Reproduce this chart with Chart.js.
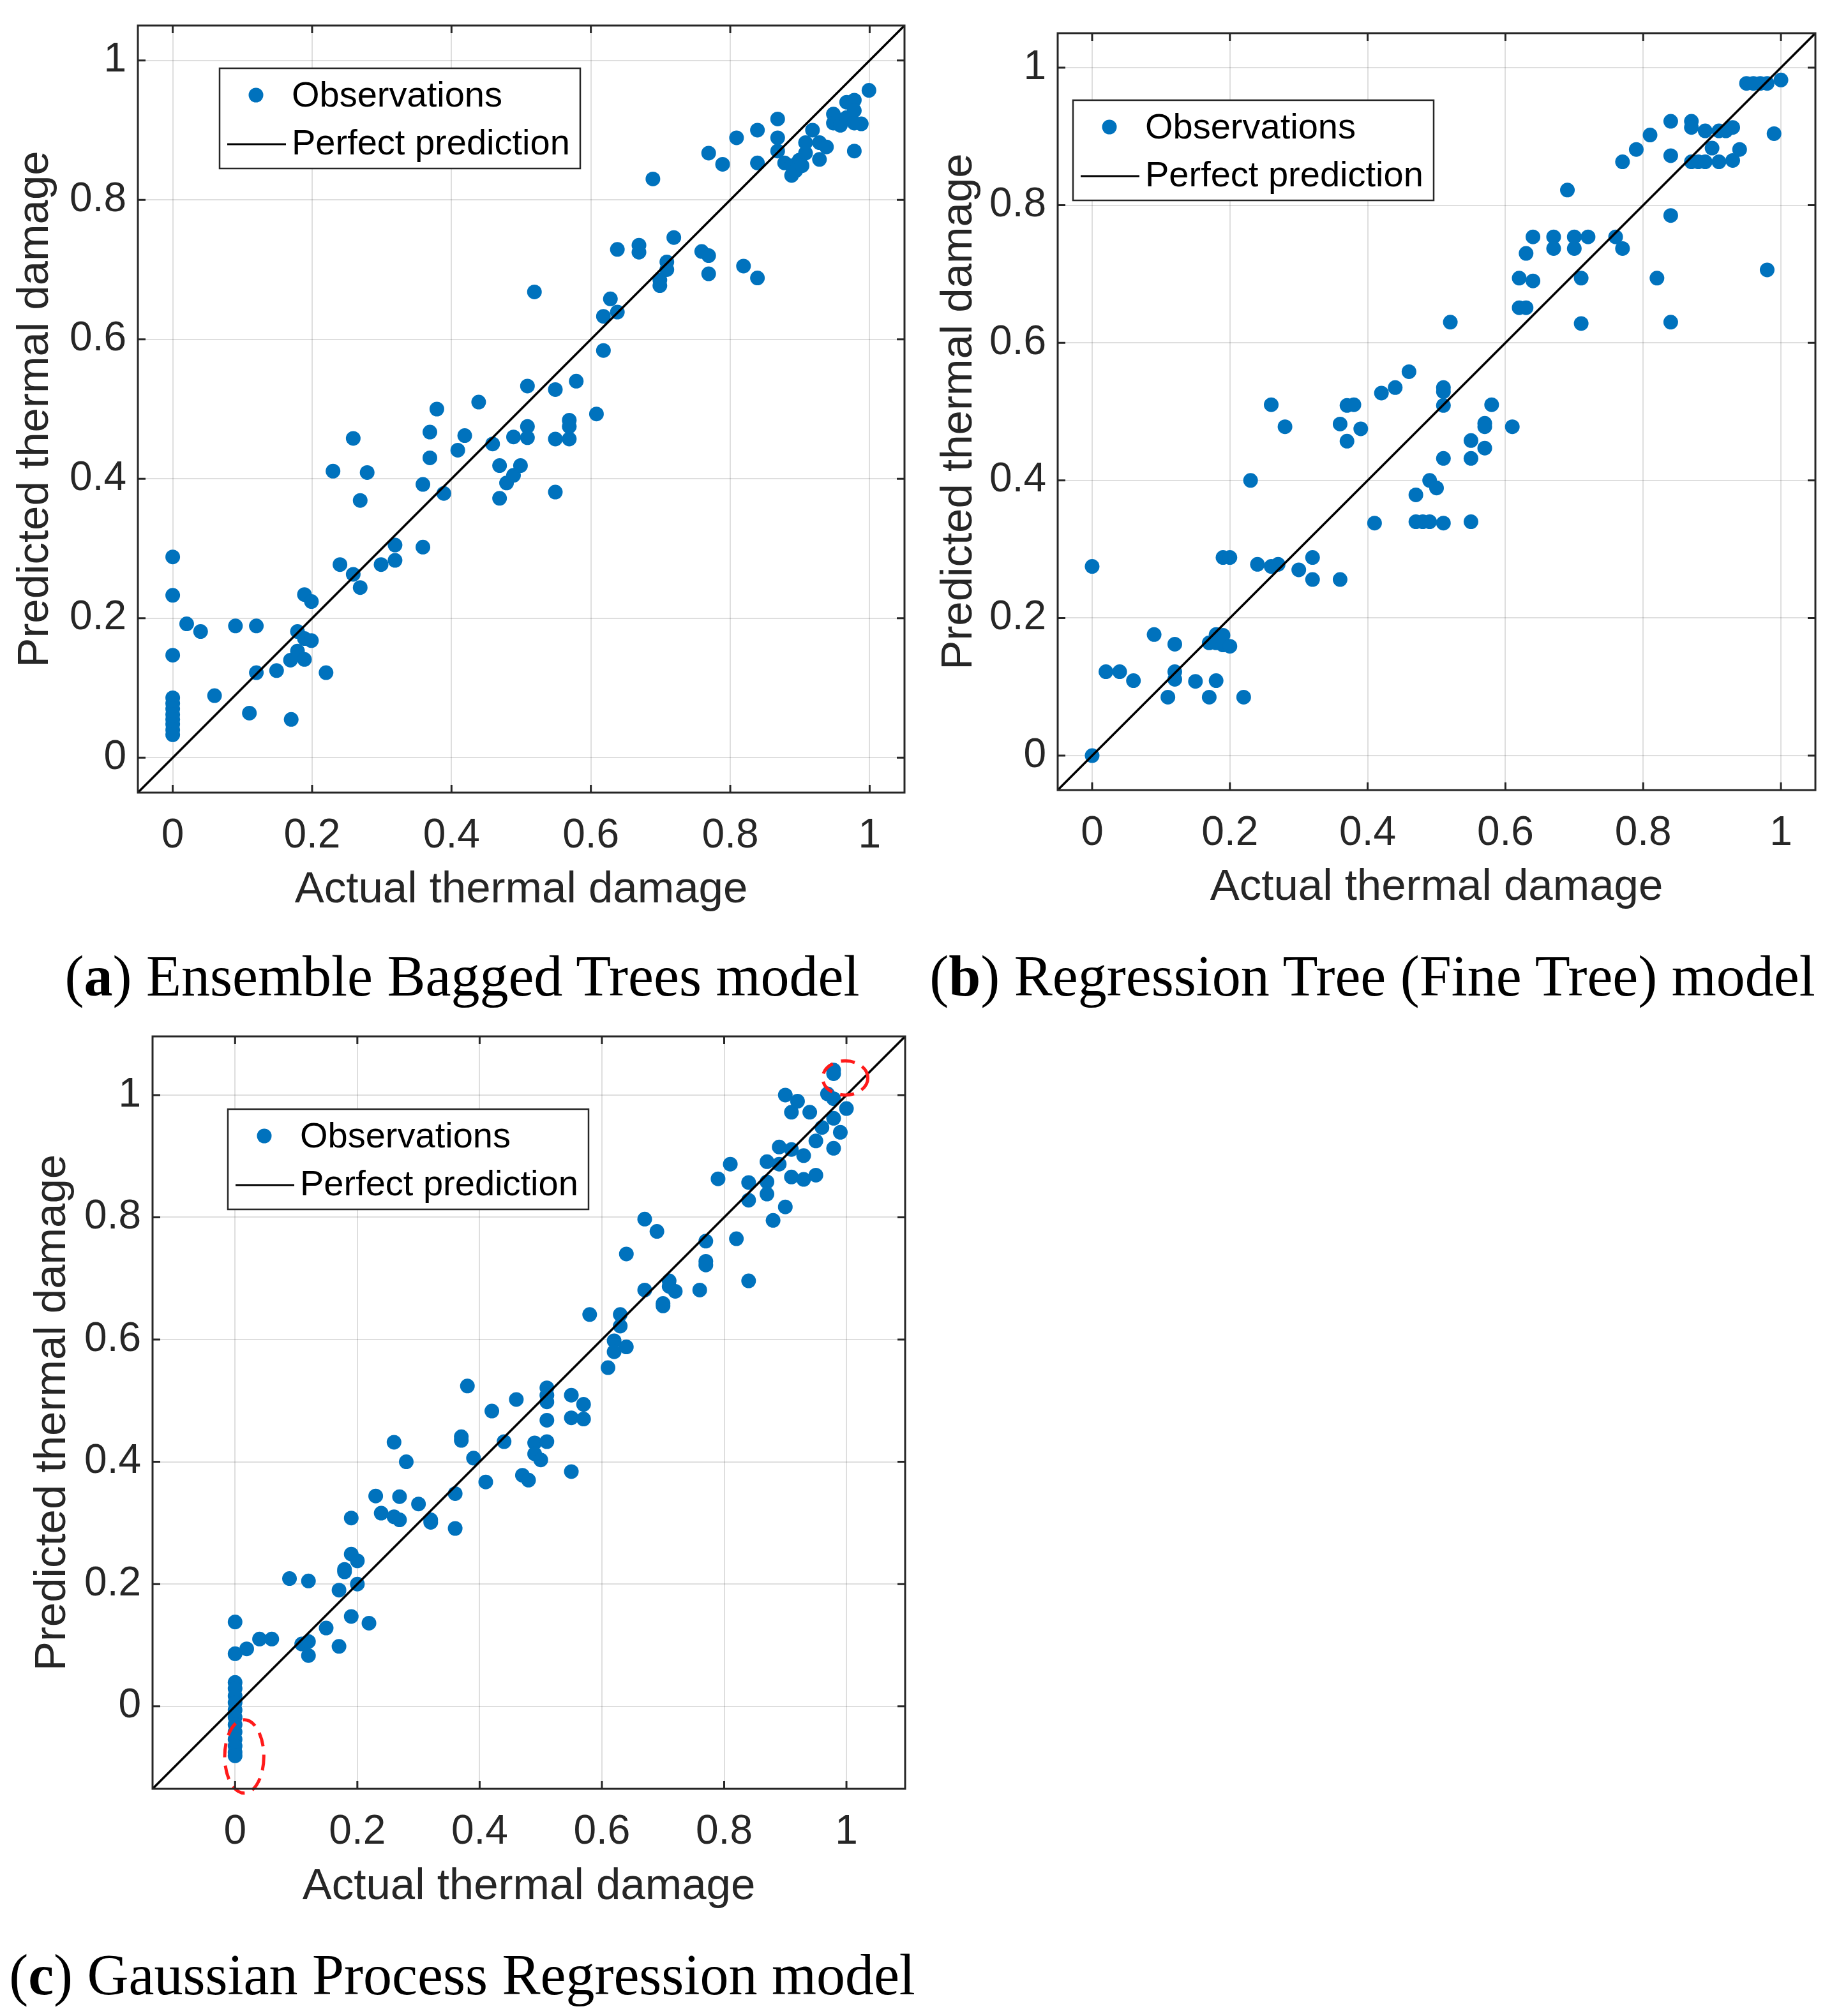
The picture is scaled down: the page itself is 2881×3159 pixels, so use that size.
<!DOCTYPE html>
<html>
<head>
<meta charset="utf-8">
<script src="https://cdn.jsdelivr.net/npm/chart.js@4"></script>
<style>
  html, body { margin: 0; padding: 0; background: #fff; }
  body { width: 2881px; height: 3159px; position: relative; overflow: hidden; }
  canvas { position: absolute; }
  .caption {
    position: absolute;
    font-family: 'Liberation Serif', 'Times New Roman', serif;
    font-size: 90px;
    line-height: 90px;
    white-space: nowrap;
    transform: translateX(-50%);
    color: #000;
  }
</style>
</head>
<body>
<canvas id="chartA" width="1440" height="1440" style="left:0;top:0"></canvas>
<canvas id="chartB" width="1441" height="1440" style="left:1440px;top:0"></canvas>
<canvas id="chartC" width="1440" height="1440" style="left:0;top:1560px"></canvas>

<div class="caption" style="left:724px;top:1485px">(<b>a</b>) Ensemble Bagged Trees model</div>
<div class="caption" style="left:2150px;top:1485px">(<b>b</b>) Regression Tree (Fine Tree) model</div>
<div class="caption" style="left:724px;top:3050px">(<b>c</b>) Gaussian Process Regression model</div>

<script>
// shared axis ticks
const tickValues = [0, 0.2, 0.4, 0.6, 0.8, 1];
const tickLabels = ['0', '0.2', '0.4', '0.6', '0.8', '1'];

// (a) Ensemble Bagged Trees
const aLimits = [-0.05, 1.05];
const aActual = [0, 0, 0, 0, 0, 0, 0, 0, 0, 0, 0,
    0.02, 0.04, 0.09, 0.12, 0.06, 0.11, 0.12, 0.149, 0.17, 0.169, 0.179, 0.179, 0.189, 0.189, 0.189, 0.199, 0.199, 0.22, 0.24,
    0.259, 0.259, 0.269, 0.23, 0.269, 0.279, 0.299, 0.319, 0.319, 0.359, 0.359, 0.369, 0.369, 0.379, 0.389, 0.409, 0.419, 0.439, 0.459, 0.469,
    0.469, 0.479, 0.489, 0.499, 0.489, 0.509, 0.509, 0.509, 0.519, 0.549, 0.549, 0.549, 0.569, 0.569, 0.579, 0.608, 0.618, 0.618, 0.628, 0.638,
    0.638, 0.669, 0.669, 0.689, 0.699, 0.709, 0.719, 0.759, 0.769, 0.769, 0.769, 0.789, 0.809, 0.819, 0.839, 0.839, 0.839, 0.868, 0.868, 0.868,
    0.878, 0.888, 0.888, 0.899, 0.908, 0.908, 0.918, 0.928, 0.928, 0.938, 0.948, 0.948, 0.958, 0.967, 0.967, 0.978, 0.978, 0.978, 0.988, 0.999,
    0.978, 0.569, 0.699, 0.709, 0.894, 0.903];
const aPredicted = [0.288, 0.233, 0.147, 0.086, 0.078, 0.07, 0.062, 0.055, 0.048, 0.04, 0.033,
    0.192, 0.181, 0.189, 0.189, 0.089, 0.064, 0.122, 0.125, 0.055, 0.14, 0.181, 0.153, 0.234, 0.141, 0.171, 0.224, 0.168, 0.122, 0.277,
    0.458, 0.263, 0.244, 0.411, 0.369, 0.409, 0.277, 0.305, 0.283, 0.302, 0.392, 0.43, 0.467, 0.5, 0.379, 0.441, 0.462, 0.51, 0.45, 0.419,
    0.372, 0.394, 0.405, 0.419, 0.46, 0.475, 0.459, 0.533, 0.668, 0.528, 0.457, 0.381, 0.484, 0.457, 0.54, 0.493, 0.584, 0.633, 0.658, 0.639,
    0.729, 0.735, 0.725, 0.83, 0.677, 0.711, 0.746, 0.726, 0.72, 0.694, 0.867, 0.851, 0.889, 0.705, 0.688, 0.9, 0.853, 0.916, 0.889, 0.87,
    0.853, 0.835, 0.849, 0.857, 0.867, 0.882, 0.9, 0.882, 0.858, 0.876, 0.923, 0.91, 0.907, 0.94, 0.918, 0.943, 0.928, 0.87, 0.909, 0.957,
    0.91, 0.475, 0.685, 0.7, 0.842, 0.849];

// (b) Regression Tree (Fine Tree)
const bLimits = [-0.05, 1.05];
const bActual = [0, 0, 0.02, 0.04, 0.06, 0.09, 0.11, 0.12, 0.12, 0.12, 0.15, 0.17, 0.17, 0.18, 0.18, 0.18, 0.19, 0.19, 0.2, 0.22,
    0.23, 0.19, 0.2, 0.24, 0.26, 0.27, 0.26, 0.28, 0.3, 0.32, 0.32, 0.36, 0.36, 0.37, 0.37, 0.38, 0.39, 0.41, 0.42, 0.44,
    0.46, 0.47, 0.47, 0.48, 0.49, 0.49, 0.5, 0.51, 0.51, 0.51, 0.51, 0.51, 0.52, 0.55, 0.55, 0.55, 0.57, 0.57, 0.57, 0.58,
    0.61, 0.62, 0.63, 0.62, 0.64, 0.63, 0.64, 0.67, 0.67, 0.69, 0.7, 0.7, 0.71, 0.71, 0.72, 0.76, 0.77, 0.77, 0.79, 0.81,
    0.82, 0.84, 0.84, 0.84, 0.84, 0.87, 0.87, 0.87, 0.88, 0.89, 0.89, 0.9, 0.91, 0.91, 0.92, 0.93, 0.93, 0.94, 0.95, 0.96,
    0.97, 0.98, 0.98, 0.99, 1.0];
const bPredicted = [0, 0.275, 0.122, 0.122, 0.109, 0.176, 0.085, 0.162, 0.122, 0.111, 0.108, 0.085, 0.164, 0.176, 0.109, 0.164, 0.175, 0.161, 0.159, 0.085,
    0.4, 0.288, 0.288, 0.278, 0.275, 0.278, 0.51, 0.478, 0.27, 0.288, 0.256, 0.256, 0.482, 0.457, 0.509, 0.51, 0.475, 0.338, 0.527, 0.535,
    0.558, 0.379, 0.34, 0.34, 0.34, 0.4, 0.389, 0.338, 0.432, 0.509, 0.529, 0.535, 0.63, 0.34, 0.432, 0.458, 0.447, 0.478, 0.483, 0.51,
    0.478, 0.651, 0.651, 0.694, 0.69, 0.73, 0.754, 0.754, 0.737, 0.822, 0.754, 0.737, 0.694, 0.628, 0.754, 0.754, 0.737, 0.863, 0.881, 0.902,
    0.694, 0.922, 0.872, 0.785, 0.63, 0.922, 0.913, 0.863, 0.863, 0.908, 0.863, 0.883, 0.908, 0.863, 0.908, 0.913, 0.865, 0.881, 0.977, 0.977,
    0.977, 0.977, 0.706, 0.904, 0.982];

// (c) Gaussian Process Regression
const cLimits = [-0.135, 1.096];
const cActual = [0, 0, 0, 0, 0, 0, 0, 0, 0, 0, 0, 0, 0, 0,
    0.019, 0.04, 0.06, 0.089, 0.12, 0.109, 0.12, 0.12, 0.149, 0.17, 0.17, 0.179, 0.179, 0.19, 0.2, 0.2, 0.19, 0.219, 0.19, 0.23,
    0.239, 0.26, 0.269, 0.26, 0.269, 0.28, 0.3, 0.32, 0.32, 0.36, 0.36, 0.37, 0.37, 0.38, 0.39, 0.41, 0.42, 0.44, 0.46, 0.47,
    0.48, 0.49, 0.49, 0.5, 0.51, 0.51, 0.51, 0.51, 0.51, 0.55, 0.55, 0.55, 0.57, 0.57, 0.58, 0.61, 0.62, 0.62, 0.63, 0.63,
    0.64, 0.64, 0.67, 0.69, 0.67, 0.7, 0.7, 0.71, 0.71, 0.72, 0.76, 0.77, 0.77, 0.77, 0.79, 0.81, 0.82, 0.84, 0.84, 0.84,
    0.87, 0.87, 0.87, 0.89, 0.89, 0.88, 0.9, 0.9, 0.91, 0.91, 0.91, 0.92, 0.93, 0.93, 0.94, 0.95, 0.95, 0.96, 0.969, 0.979,
    0.979, 0.979, 0.979, 0.99, 1.0, 0.979];
const cPredicted = [0.138, 0.086, 0.039, 0.029, 0.017, 0.006, -0.006, -0.018, -0.03, -0.042, -0.054, -0.065, -0.075, -0.081,
    0.094, 0.11, 0.11, 0.209, 0.205, 0.102, 0.106, 0.083, 0.128, 0.098, 0.19, 0.224, 0.22, 0.249, 0.238, 0.2, 0.147, 0.136, 0.308, 0.344,
    0.316, 0.31, 0.305, 0.432, 0.343, 0.4, 0.331, 0.305, 0.301, 0.348, 0.291, 0.441, 0.435, 0.524, 0.406, 0.367, 0.483, 0.433, 0.502, 0.378,
    0.37, 0.431, 0.413, 0.403, 0.521, 0.509, 0.498, 0.468, 0.433, 0.509, 0.472, 0.384, 0.494, 0.47, 0.641, 0.554, 0.598, 0.58, 0.641, 0.622,
    0.588, 0.74, 0.797, 0.777, 0.681, 0.659, 0.655, 0.696, 0.687, 0.679, 0.681, 0.761, 0.728, 0.722, 0.863, 0.887, 0.765, 0.696, 0.857, 0.828,
    0.891, 0.858, 0.838, 0.915, 0.887, 0.795, 0.817, 1.0, 0.911, 0.866, 0.972, 0.99, 0.901, 0.862, 0.972, 0.925, 0.869, 0.947, 1.002, 1.041,
    1.035, 0.962, 0.913, 0.939, 0.978, 0.994];

// red dashed rings marking the out-of-range predictions in (c), in data units
const ringX = [0.998, 0.015];
const ringY = [1.028, -0.082];
const ringRx = [0.037, 0.032];
const ringRy = [0.028, 0.06];

const legendLabels = ['Observations', 'Perfect prediction'];
const sansFont = "'Liberation Sans', Arial, Helvetica, sans-serif";
const blue = '#0072BD';
const axisGray = '#262626';

// box, inward ticks, legend and rings drawn on top of the data
const framePlugin = {
    id: 'frame',
    afterDatasetsDraw(chart, args, opts) {
        const ctx = chart.ctx;
        const a = chart.chartArea;
        const xs = chart.scales.x, ys = chart.scales.y;
        ctx.save();

        if (opts.rings) {
            ctx.strokeStyle = '#ff1a1a';
            ctx.lineWidth = 5;
            ctx.setLineDash([22, 13]);
            ringX.forEach((cx, i) => {
                const px = xs.getPixelForValue(cx), py = ys.getPixelForValue(ringY[i]);
                const rx = Math.abs(xs.getPixelForValue(cx + ringRx[i]) - px);
                const ry = Math.abs(ys.getPixelForValue(ringY[i] + ringRy[i]) - py);
                ctx.beginPath();
                ctx.ellipse(px, py, rx, ry, 0, 0, Math.PI * 2);
                ctx.stroke();
            });
            ctx.setLineDash([]);
        }

        ctx.strokeStyle = axisGray;
        ctx.lineWidth = 3;
        const tk = 12;
        ctx.beginPath();
        tickValues.forEach(v => {
            const px = xs.getPixelForValue(v), py = ys.getPixelForValue(v);
            ctx.moveTo(px, a.bottom); ctx.lineTo(px, a.bottom - tk);
            ctx.moveTo(px, a.top); ctx.lineTo(px, a.top + tk);
            ctx.moveTo(a.left, py); ctx.lineTo(a.left + tk, py);
            ctx.moveTo(a.right, py); ctx.lineTo(a.right - tk, py);
        });
        ctx.stroke();
        ctx.strokeRect(a.left, a.top, a.right - a.left, a.bottom - a.top);

        // legend
        const lx = a.left + opts.legendLeft, ly = a.top + opts.legendTop;
        const lw = 565, lh = 157;
        ctx.fillStyle = '#fff';
        ctx.fillRect(lx, ly, lw, lh);
        ctx.strokeStyle = '#262626';
        ctx.lineWidth = 2.5;
        ctx.strokeRect(lx, ly, lw, lh);

        ctx.fillStyle = blue;
        ctx.beginPath();
        ctx.arc(lx + 57, ly + 42, 11.5, 0, Math.PI * 2);
        ctx.fill();

        ctx.strokeStyle = '#000';
        ctx.lineWidth = 3;
        ctx.beginPath();
        ctx.moveTo(lx + 12, ly + 119);
        ctx.lineTo(lx + 104, ly + 119);
        ctx.stroke();

        ctx.fillStyle = '#000';
        ctx.font = '56px ' + sansFont;
        ctx.textBaseline = 'middle';
        ctx.textAlign = 'left';
        ctx.fillText(legendLabels[0], lx + 113, ly + 45);
        ctx.fillText(legendLabels[1], lx + 113, ly + 120);

        ctx.restore();
    }
};

function axisOptions(limits, title, fitSize, isX, tickPad, titlePad) {
    return {
        type: 'linear',
        min: limits[0],
        max: limits[1],
        afterBuildTicks: s => { s.ticks = tickValues.map(v => ({ value: v })); },
        afterFit: s => {
            if (isX) s.height = fitSize; else s.width = fitSize;
            // keep the plot box exactly where the layout puts it
            s.paddingTop = 0; s.paddingBottom = 0; s.paddingLeft = 0; s.paddingRight = 0;
        },
        grid: { color: 'rgba(0,0,0,0.13)', lineWidth: 2, drawTicks: false },
        border: { display: false },
        ticks: {
            autoSkip: false,
            maxRotation: 0,
            padding: tickPad,
            color: axisGray,
            font: { family: sansFont, size: 64 },
            callback: (v, i) => tickLabels[i]
        },
        title: {
            display: true,
            text: title,
            color: axisGray,
            font: { family: sansFont, size: 69 },
            padding: isX ? { top: 0, bottom: titlePad } : { top: titlePad, bottom: 0 }
        }
    };
}

function makePanel(id, actual, predicted, limits, layout) {
    const ctx = document.getElementById(id).getContext('2d');
    return new Chart(ctx, {
        type: 'scatter',
        data: {
            datasets: [{
                label: legendLabels[1],
                data: [{ x: limits[0], y: limits[0] }, { x: limits[1], y: limits[1] }],
                showLine: true,
                borderColor: '#000',
                borderWidth: 3.5,
                pointRadius: 0,
                order: 0
            }, {
                label: legendLabels[0],
                data: actual.map((v, i) => ({ x: v, y: predicted[i] })),
                backgroundColor: blue,
                borderWidth: 0,
                pointRadius: 11.5,
                order: 1
            }]
        },
        options: {
            responsive: false,
            animation: false,
            devicePixelRatio: 1,
            layout: { padding: layout.padding },
            plugins: {
                legend: { display: false },
                tooltip: { enabled: false },
                frame: { legendLeft: layout.legendLeft, legendTop: layout.legendTop, rings: !!layout.rings }
            },
            scales: {
                x: axisOptions(limits, 'Actual thermal damage', layout.xHeight, true, 30, layout.xTitlePad),
                y: axisOptions(limits, 'Predicted thermal damage', layout.yWidth, false, 18, layout.yTitlePad)
            }
        },
        plugins: [framePlugin]
    });
}

makePanel('chartA', aActual, aPredicted, aLimits, {
    padding: { top: 40, right: 23, left: 0, bottom: 0 },
    yWidth: 216, xHeight: 198, xTitlePad: 4, yTitlePad: 15,
    legendLeft: 128, legendTop: 67
});

makePanel('chartB', bActual, bPredicted, bLimits, {
    padding: { top: 52, right: 37, left: 0, bottom: 0 },
    yWidth: 217, xHeight: 202, xTitlePad: 8, yTitlePad: 22,
    legendLeft: 24, legendTop: 105
});

makePanel('chartC', cActual, cPredicted, cLimits, {
    padding: { top: 64, right: 22, left: 0, bottom: 0 },
    yWidth: 239, xHeight: 197, xTitlePad: 2, yTitlePad: 42,
    legendLeft: 118, legendTop: 114, rings: true
});
</script>
</body>
</html>
